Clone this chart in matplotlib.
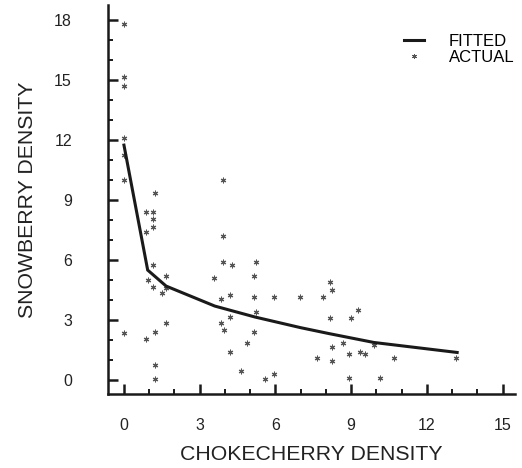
import numpy as np
import matplotlib.pyplot as plt
from matplotlib.lines import Line2D

plt.rcParams['font.family'] = ['Liberation Sans', 'DejaVu Sans']

# observed densities (chokecherry, snowberry)
chokecherry = [0.0, 0.0, 0.0, 0.0, 0.0, 0.0, 0.0,
               0.87, 1.16, 1.16, 1.16, 0.87, 1.24, 1.16, 0.96, 1.67,
               1.15, 1.5, 1.67, 0.87, 1.24, 1.67, 1.24, 1.24,
               3.94, 3.94, 3.94, 4.3, 5.23, 3.58, 5.15, 3.83, 4.2,
               5.15, 5.94, 6.97, 4.2, 5.23, 3.83, 3.95, 5.15, 4.89,
               4.2, 4.65, 5.6, 5.94,
               8.15, 8.23, 7.88, 9.28, 8.15, 9.0, 8.67, 8.23, 9.9,
               7.63, 8.23, 8.93, 9.37, 9.54, 10.68, 13.15, 8.93, 10.16]
snowberry = [17.8, 15.17, 14.7, 12.1, 11.25, 10.0, 2.37,
             8.38, 8.38, 8.05, 7.63, 7.42, 9.37, 5.77, 5.0, 5.22,
             4.67, 4.37, 4.58, 2.05, 2.38, 2.83, 0.73, 0.05,
             10.0, 7.2, 5.88, 5.77, 5.88, 5.12, 5.22, 4.03, 4.25,
             4.15, 4.15, 4.15, 3.17, 3.4, 2.83, 2.5, 2.38, 1.85,
             1.38, 0.43, 0.07, 0.32,
             4.92, 4.48, 4.15, 3.52, 3.08, 3.08, 1.87, 1.63, 1.75,
             1.08, 0.97, 1.3, 1.42, 1.3, 1.08, 1.08, 0.08, 0.08]

# fitted curve
fit_x = [0.0, 0.94, 1.67, 3.6, 5.2, 7.0, 8.1, 9.9, 13.2]
fit_y = [11.75, 5.5, 4.7, 3.7, 3.15, 2.62, 2.33, 1.88, 1.38]

fig = plt.figure(figsize=(5.22, 4.68), dpi=100)
ax = fig.add_axes([0.207, 0.158, 0.78, 0.831])

ax.plot(fit_x, fit_y, color='#1a1a1a', lw=2.2, solid_joinstyle='miter')
ax.scatter(chokecherry, snowberry, marker=(6, 2, 0), s=12, color='#555555',
           linewidths=0.8)

ax.set_xlim(-0.63, 15.5)
ax.set_ylim(-0.7, 18.75)
ax.set_xticks(np.arange(0, 16, 3))
ax.set_yticks(np.arange(0, 19, 3))
ax.set_xticks(np.arange(0, 16, 1), minor=True)
ax.set_yticks(np.arange(0, 19, 1), minor=True)

for side in ['top', 'right']:
    ax.spines[side].set_visible(False)
for side in ['left', 'bottom']:
    ax.spines[side].set_linewidth(1.8)
    ax.spines[side].set_color('#1a1a1a')

ax.tick_params(which='major', direction='in', length=7, width=1.8,
               colors='#1a1a1a', labelsize=11.5, labelcolor='#222222')
ax.tick_params(which='minor', direction='in', length=3.5, width=1.4,
               colors='#1a1a1a')
ax.tick_params(axis='y', which='major', pad=26)
ax.tick_params(axis='x', which='major', pad=17)

ax.set_xlabel('CHOKECHERRY DENSITY', fontsize=15.3, color='#222222',
              labelpad=9)
ax.set_ylabel('SNOWBERRY DENSITY', fontsize=15.3, color='#222222',
              labelpad=12)

handles = [Line2D([], [], color='#1a1a1a', lw=2.2),
           Line2D([], [], color='#555555', marker=(6, 2, 0), ls='none',
                  markersize=3.5, markeredgewidth=0.7)]
ax.legend(handles, ['FITTED', 'ACTUAL'], loc='upper right',
          bbox_to_anchor=(1.035, 0.965), frameon=False, fontsize=12,
          handlelength=1.2, handletextpad=1.5, labelspacing=0.05)

fig.savefig('out.png', dpi=100)
